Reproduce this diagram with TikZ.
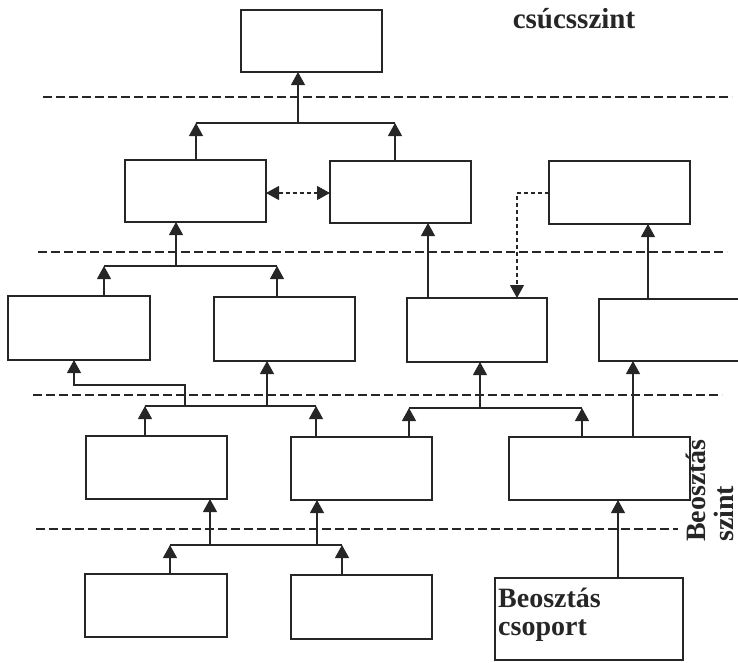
\documentclass[tikz,border=0pt]{standalone}
\usepackage{fontspec}
\setmainfont{Liberation Serif}
\usetikzlibrary{arrows.meta}
\definecolor{ink}{HTML}{262626}
\tikzset{
  box/.style={draw=ink, line width=1.3pt, inner sep=0pt, outer sep=0pt},
  link/.style={draw=ink, line width=1.1pt},
  tip/.tip={Triangle[length=13pt,width=14pt]},
  arr/.style={link, -tip},
  dasharr/.style={arr, dash pattern=on 4pt off 3pt},
  dbarr/.style={link, dash pattern=on 4pt off 3pt, tip-tip},
  levelline/.style={draw=ink, line width=1.2pt, dash pattern=on 9pt off 4pt},
  lbl/.style={inner sep=0pt, text=ink, font=\bfseries\fontsize{28}{30}\selectfont}
}
\newcommand{\orgbox}[5]{% name, x1, y1, x2, y2
  \node[box, minimum width=#4pt-#2pt, minimum height=#5pt-#3pt]
    (#1) at ({(#2+#4)/2},{(#3+#5)/2}) {};}
\begin{document}
\begin{tikzpicture}[x=1pt,y=-1pt]
\useasboundingbox (0,0) rectangle (738,662);

% level separators
\draw[levelline] (43,97) -- (732,97);
\draw[levelline] (38,252) -- (727,252);
\draw[levelline] (33,395) -- (722,395);
\draw[levelline] (36,529) -- (678,529);

% boxes, top to bottom
\orgbox{T}{241}{10}{382}{72}
\orgbox{Ba}{125}{160}{266}{222}
\orgbox{Bb}{330}{161}{471}{223}
\orgbox{Bc}{549}{161}{690}{224}
\orgbox{Ca}{8}{296}{150}{360}
\orgbox{Cb}{214}{297}{355}{361}
\orgbox{Cc}{407}{298}{547}{362}
\orgbox{Cd}{599}{299}{760}{361}
\orgbox{Da}{86}{436}{227}{499}
\orgbox{Db}{291}{437}{432}{500}
\orgbox{Dc}{509}{437}{690}{500}
\orgbox{Ea}{85}{574}{227}{637}
\orgbox{Eb}{291}{575}{432}{639}
\orgbox{BC}{495}{578}{683}{660}

% labels
\node[lbl, font=\bfseries\fontsize{29}{30}\selectfont, anchor=base] (top) at (574,28) {csúcsszint};
\node[lbl, anchor=base west] (bc1) at (498,607) {Beosztás};
\node[lbl, anchor=base west] (bc2) at (498,635) {csoport};
\node[lbl, rotate=90, anchor=base west] (bs1) at (705,542) {Beosztás};
\node[lbl, rotate=90, anchor=base west] (bs2) at (733,542) {szint};

% second level to top
\coordinate (p1l) at (196,123);
\coordinate (p1r) at (395,123);
\coordinate (p1m) at (298,123);
\draw[arr] (p1l |- Ba.north) -- (p1l);
\draw[arr] (p1r |- Bb.north) -- (p1r);
\draw[link] (p1l) -- (p1r);
\draw[arr] (p1m) -- (p1m |- T.south);

% links within the second level
\coordinate (h2) at (300,193);
\draw[dbarr] (Ba.east |- h2) -- (Bb.west |- h2);
\coordinate (dk) at (517,193);
\draw[dasharr] (Bc.west |- dk) -- (dk) -- (dk |- Cc.north);

% third level to second
\coordinate (p2l) at (104,266);
\coordinate (p2r) at (277,266);
\coordinate (p2m) at (176,266);
\draw[arr] (p2l |- Ca.north) -- (p2l);
\draw[arr] (p2r |- Cb.north) -- (p2r);
\draw[link] (p2l) -- (p2r);
\draw[arr] (p2m) -- (p2m |- Ba.south);
\coordinate (q3) at (428,300);
\draw[arr] (q3 |- Cc.north) -- (q3 |- Bb.south);
\coordinate (q4) at (648,300);
\draw[arr] (q4 |- Cd.north) -- (q4 |- Bc.south);

% fourth level to third
\coordinate (p3l) at (145,406);
\coordinate (p3r) at (316,406);
\coordinate (p3m) at (267,406);
\coordinate (p3k) at (185,406);
\coordinate (p3j) at (74,385);
\draw[arr] (p3l |- Da.north) -- (p3l);
\draw[arr] (p3r |- Db.north) -- (p3r);
\draw[link] (p3l) -- (p3r);
\draw[arr] (p3m) -- (p3m |- Cb.south);
\draw[arr] (p3k) |- (p3j) -- (p3j |- Ca.south);

\coordinate (p4l) at (409,408);
\coordinate (p4r) at (582,408);
\coordinate (p4m) at (480,408);
\draw[arr] (p4l |- Db.north) -- (p4l);
\draw[arr] (p4r |- Dc.north) -- (p4r);
\draw[link] (p4l) -- (p4r);
\draw[arr] (p4m) -- (p4m |- Cc.south);
\coordinate (q5) at (633,420);
\draw[arr] (q5 |- Dc.north) -- (q5 |- Cd.south);

% bottom level to fourth
\coordinate (p5l) at (170,545);
\coordinate (p5r) at (342,545);
\coordinate (p5a) at (210,545);
\coordinate (p5b) at (317,545);
\draw[arr] (p5l |- Ea.north) -- (p5l);
\draw[arr] (p5r |- Eb.north) -- (p5r);
\draw[link] (p5l) -- (p5r);
\draw[arr] (p5a) -- (p5a |- Da.south);
\draw[arr] (p5b) -- (p5b |- Db.south);
\coordinate (q6) at (618,560);
\draw[arr] (q6 |- BC.north) -- (q6 |- Dc.south);
\end{tikzpicture}
\end{document}
